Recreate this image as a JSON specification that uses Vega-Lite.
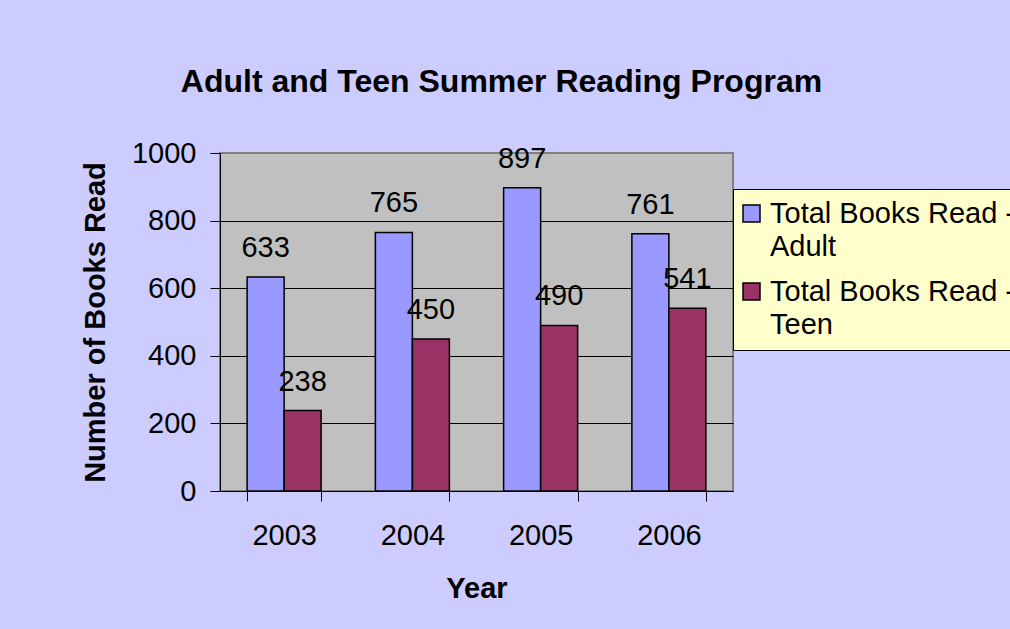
{
  "$schema": "https://vega.github.io/schema/vega-lite/v6.json",
  "width": 513,
  "height": 338,
  "autosize": {"type": "none"},
  "padding": {"left": 220, "top": 153, "right": 277, "bottom": 138},
  "background": "#CCCCFF",
  "config": {
    "font": "Liberation Sans",
    "view": {"fill": "#C0C0C0", "stroke": "#808080", "strokeWidth": 2}
  },
  "title": {
    "text": "Adult and Teen Summer Reading Program",
    "font": "Liberation Sans",
    "fontSize": 32,
    "fontWeight": "bold",
    "color": "black",
    "anchor": "middle",
    "dx": 25,
    "offset": 15,
    "baseline": "alphabetic"
  },
  "data": {
    "values": [
      {"year": "2003", "series": "Total Books Read - Adult", "books": 633},
      {"year": "2003", "series": "Total Books Read - Teen", "books": 238},
      {"year": "2004", "series": "Total Books Read - Adult", "books": 765},
      {"year": "2004", "series": "Total Books Read - Teen", "books": 450},
      {"year": "2005", "series": "Total Books Read - Adult", "books": 897},
      {"year": "2005", "series": "Total Books Read - Teen", "books": 490},
      {"year": "2006", "series": "Total Books Read - Adult", "books": 761},
      {"year": "2006", "series": "Total Books Read - Teen", "books": 541}
    ]
  },
  "encoding": {
    "x": {
      "field": "year",
      "type": "nominal",
      "scale": {"paddingInner": 0.423, "paddingOuter": 0.2115},
      "axis": {
        "title": "Year",
        "labelAngle": 0,
        "labelFontSize": 29,
        "labelColor": "black",
        "labelPadding": 20,
        "tickBand": "extent",
        "tickSize": 10,
        "tickColor": "black",
        "domainColor": "black",
        "grid": false,
        "titleFontSize": 29,
        "titleFontWeight": "bold",
        "titleColor": "black",
        "titleY": 97,
        "titleBaseline": "middle"
      }
    },
    "xOffset": {
      "field": "series",
      "sort": ["Total Books Read - Adult", "Total Books Read - Teen"],
      "scale": {"paddingInner": 0}
    },
    "y": {
      "field": "books",
      "type": "quantitative",
      "scale": {"domain": [0, 1000], "nice": false},
      "axis": {
        "title": "Number of Books Read",
        "values": [0, 200, 400, 600, 800, 1000],
        "format": "d",
        "labelFontSize": 29,
        "labelColor": "black",
        "labelPadding": 14,
        "tickSize": 10,
        "tickColor": "black",
        "domainColor": "black",
        "grid": true,
        "gridColor": {"condition": {"test": "datum.value == 1000", "value": "#808080"}, "value": "black"},
        "gridOpacity": 1,
        "titleFontSize": 29,
        "titleFontWeight": "bold",
        "titleColor": "black",
        "titleX": -125,
        "titleY": 169,
        "titleAlign": "center",
        "titleBaseline": "middle"
      }
    }
  },
  "layer": [
    {
      "mark": {"type": "bar", "stroke": "black", "strokeWidth": 1.5},
      "encoding": {
        "color": {
          "field": "series",
          "type": "nominal",
          "scale": {
            "domain": ["Total Books Read - Adult", "Total Books Read - Teen"],
            "range": ["#9999FF", "#993366"]
          },
          "legend": {
            "title": null,
            "orient": "none",
            "legendX": 513,
            "legendY": 36,
            "fillColor": "#FFFFCC",
            "strokeColor": "black",
            "padding": 10,
            "rowPadding": 15,
            "symbolType": "square",
            "symbolSize": 289,
            "symbolOffset": -6,
            "symbolStrokeColor": "black",
            "symbolStrokeWidth": 1.5,
            "symbolOpacity": 1,
            "labelFontSize": 29,
            "labelColor": "black",
            "labelLimit": 0,
            "labelOffset": 4,
            "labelExpr": "[substring(datum.label, 0, 18), substring(datum.label, 19)]",
            "encode": {
              "labels": {"update": {"lineHeight": {"value": 33}}}
            }
          }
        }
      }
    },
    {
      "mark": {"type": "text", "baseline": "alphabetic", "dy": -20, "fontSize": 29, "color": "black"},
      "encoding": {"text": {"field": "books", "type": "quantitative"}}
    }
  ]
}
